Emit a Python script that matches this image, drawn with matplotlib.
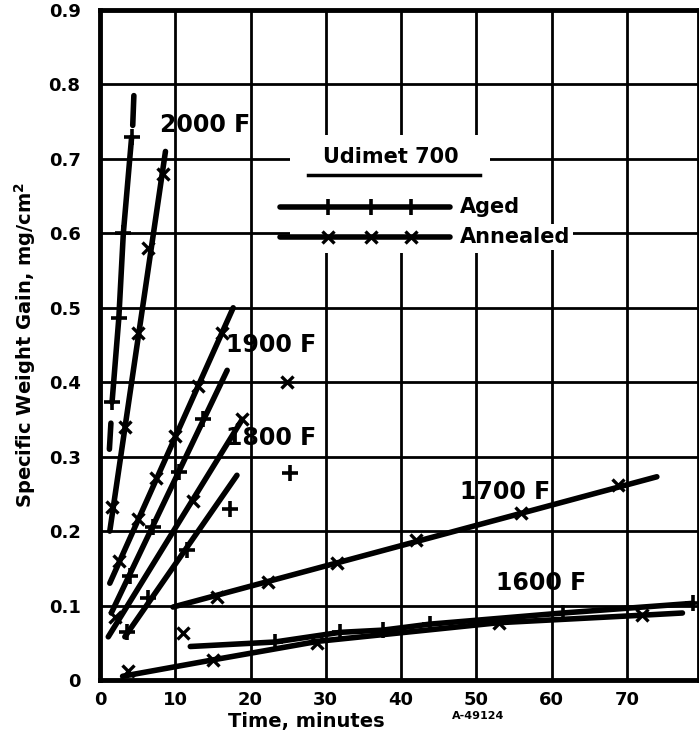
import numpy as np
import matplotlib
matplotlib.use('Agg')
import matplotlib.pyplot as plt
from matplotlib.patches import Rectangle

# Udimet 700 oxidation data
# 2000 F
aged_2000_x = [4.2, 3.1, 2.5, 1.6]
aged_2000_y = [0.729, 0.60, 0.486, 0.373]
aged_2000_top_x = [4.5, 4.35]
aged_2000_top_y = [0.785, 0.745]
aged_2000_low_x = [1.45, 1.25]
aged_2000_low_y = [0.345, 0.31]
ann_2000_line_x = [8.7, 1.3]
ann_2000_line_y = [0.71, 0.20]
ann_2000_x = [8.4, 6.4, 5.0, 3.3, 1.6]
ann_2000_y = [0.68, 0.58, 0.466, 0.34, 0.232]

# 1900 F
ann_1900_line_x = [17.7, 1.3]
ann_1900_line_y = [0.50, 0.13]
ann_1900_x = [16.2, 13.0, 10.0, 7.5, 5.0, 2.5]
ann_1900_y = [0.466, 0.395, 0.328, 0.272, 0.216, 0.16]
aged_1900_line_x = [16.9, 1.5]
aged_1900_line_y = [0.416, 0.09]
aged_1900_x = [13.7, 10.5, 7.0, 4.0]
aged_1900_y = [0.35, 0.28, 0.205, 0.14]

# 1800 F
ann_1800_line_x = [18.9, 1.1]
ann_1800_line_y = [0.35, 0.058]
ann_1800_x = [18.9, 12.3, 2.0]
ann_1800_y = [0.35, 0.24, 0.085]
aged_1800_line_x = [18.2, 3.3]
aged_1800_line_y = [0.275, 0.058]
aged_1800_x = [11.6, 6.4, 3.6]
aged_1800_y = [0.175, 0.11, 0.065]

# stray points
ann_extra_x = [24.8, 11.0]
ann_extra_y = [0.40, 0.063]
aged_extra_x = [25.2, 17.3]
aged_extra_y = [0.278, 0.23]

# 1700 F
ann_1700_line_x = [9.7, 74.0]
ann_1700_line_y = [0.098, 0.273]
ann_1700_x = [15.5, 22.3, 31.5, 42.0, 56.0, 68.8]
ann_1700_y = [0.111, 0.131, 0.157, 0.188, 0.225, 0.262]

# 1600 F
ann_1600_x = [3.0, 15.0, 29.0, 53.0, 72.0, 77.4]
ann_1600_y = [0.005, 0.027, 0.052, 0.077, 0.087, 0.090]
ann_1600_mx = [3.7, 15.0, 28.8, 53.0, 72.0]
ann_1600_my = [0.012, 0.027, 0.050, 0.077, 0.087]
aged_1600_x = [12.0, 23.2, 31.9, 37.6, 43.8, 61.5, 78.8]
aged_1600_y = [0.045, 0.051, 0.064, 0.067, 0.075, 0.090, 0.103]

temp_labels = ['2000 F', '1900 F', '1800 F', '1700 F', '1600 F']
temp_x = [14.0, 22.8, 22.8, 53.8, 58.6]
temp_y = [0.745, 0.45, 0.325, 0.252, 0.13]

LW = 4.0

fig = plt.figure(figsize=(6.99, 7.44), dpi=100)
ax = fig.add_axes([100 / 699, 64 / 744, 599 / 699, 670 / 744])
ax.set_xlim(0, 79.6)
ax.set_ylim(0, 0.9)

ax.set_xticks(np.arange(0, 71, 10))
ax.set_yticks(np.arange(0, 0.91, 0.1))
ax.set_xticklabels([str(v) for v in range(0, 71, 10)])
ax.set_yticklabels(['0'] + [f'{v:.1f}' for v in np.arange(0.1, 0.91, 0.1)])
ax.tick_params(length=0, labelsize=13, pad=14)
ax.tick_params(axis='x', pad=8)
for lab in ax.get_xticklabels() + ax.get_yticklabels():
    lab.set_fontweight('bold')
ax.grid(True, color='black', lw=2.0)
for s in ax.spines.values():
    s.set_linewidth(3.5)

k = dict(color='black', lw=LW, solid_capstyle='round', zorder=3)
# lines
ax.plot(aged_2000_x, aged_2000_y, **k)
ax.plot(aged_2000_top_x, aged_2000_top_y, **k)
ax.plot(aged_2000_low_x, aged_2000_low_y, **k)
ax.plot(ann_2000_line_x, ann_2000_line_y, **k)
ax.plot(ann_1900_line_x, ann_1900_line_y, **k)
ax.plot(aged_1900_line_x, aged_1900_line_y, **k)
ax.plot(ann_1800_line_x, ann_1800_line_y, **k)
ax.plot(aged_1800_line_x, aged_1800_line_y, **k)
ax.plot(ann_1700_line_x, ann_1700_line_y, **k)
ax.plot(ann_1600_x, ann_1600_y, **k)
ax.plot(aged_1600_x, aged_1600_y, **k)

# markers
plus = dict(ls='none', color='black', marker='+', ms=11, mew=2.6, zorder=4)
cross = dict(ls='none', color='black', marker='x', ms=8, mew=2.4, zorder=4)
for xs, ys in [(aged_2000_x, aged_2000_y), (aged_1900_x, aged_1900_y),
               (aged_1800_x, aged_1800_y), (aged_extra_x, aged_extra_y),
               (aged_1600_x[1:], aged_1600_y[1:])]:
    ax.plot(xs, ys, **plus)
for xs, ys in [(ann_2000_x, ann_2000_y), (ann_1900_x, ann_1900_y),
               (ann_1800_x, ann_1800_y), (ann_extra_x, ann_extra_y),
               (ann_1700_x, ann_1700_y), (ann_1600_mx, ann_1600_my)]:
    ax.plot(xs, ys, **cross)

for t, x, y in zip(temp_labels, temp_x, temp_y):
    ax.text(x, y, t, fontsize=17, fontweight='bold', ha='center', va='center',
            zorder=5)

# legend block (hand drawn like the original)
T = ax.transAxes
ax.add_patch(Rectangle((0.317, 0.637), 0.334, 0.176, transform=T,
                       facecolor='white', edgecolor='none', zorder=2.8))
ax.text(0.485, 0.781, 'Udimet 700', transform=T, fontsize=15,
        fontweight='bold', ha='center', va='center', zorder=5)
ax.plot([0.347, 0.634], [0.754, 0.754], transform=T, color='black', lw=2.5,
        zorder=5)
for fy, mk, lab in [(0.706, plus, 'Aged'), (0.661, cross, 'Annealed')]:
    ax.plot([0.30, 0.585], [fy, fy], transform=T, color='black', lw=LW,
            solid_capstyle='round', zorder=5)
    ax.plot([0.38, 0.452, 0.52], [fy] * 3, transform=T,
            **{**mk, 'zorder': 6})
    ax.text(0.601, fy, lab, transform=T, fontsize=15, fontweight='bold',
            ha='left', va='center', zorder=5,
            bbox=dict(facecolor='white', edgecolor='none', pad=2))

fig.text(25 / 699, 0.536, 'Specific Weight Gain, mg/cm$^\\mathbf{2}$',
         rotation=90, fontsize=14, fontweight='bold', ha='center', va='center')
fig.text(0.438, 0.030, 'Time, minutes', fontsize=14, fontweight='bold',
         ha='center', va='center')
fig.text(0.684, 0.038, 'A-49124', fontsize=8, fontweight='bold',
         ha='center', va='center')

fig.savefig('out.png', dpi=100)
